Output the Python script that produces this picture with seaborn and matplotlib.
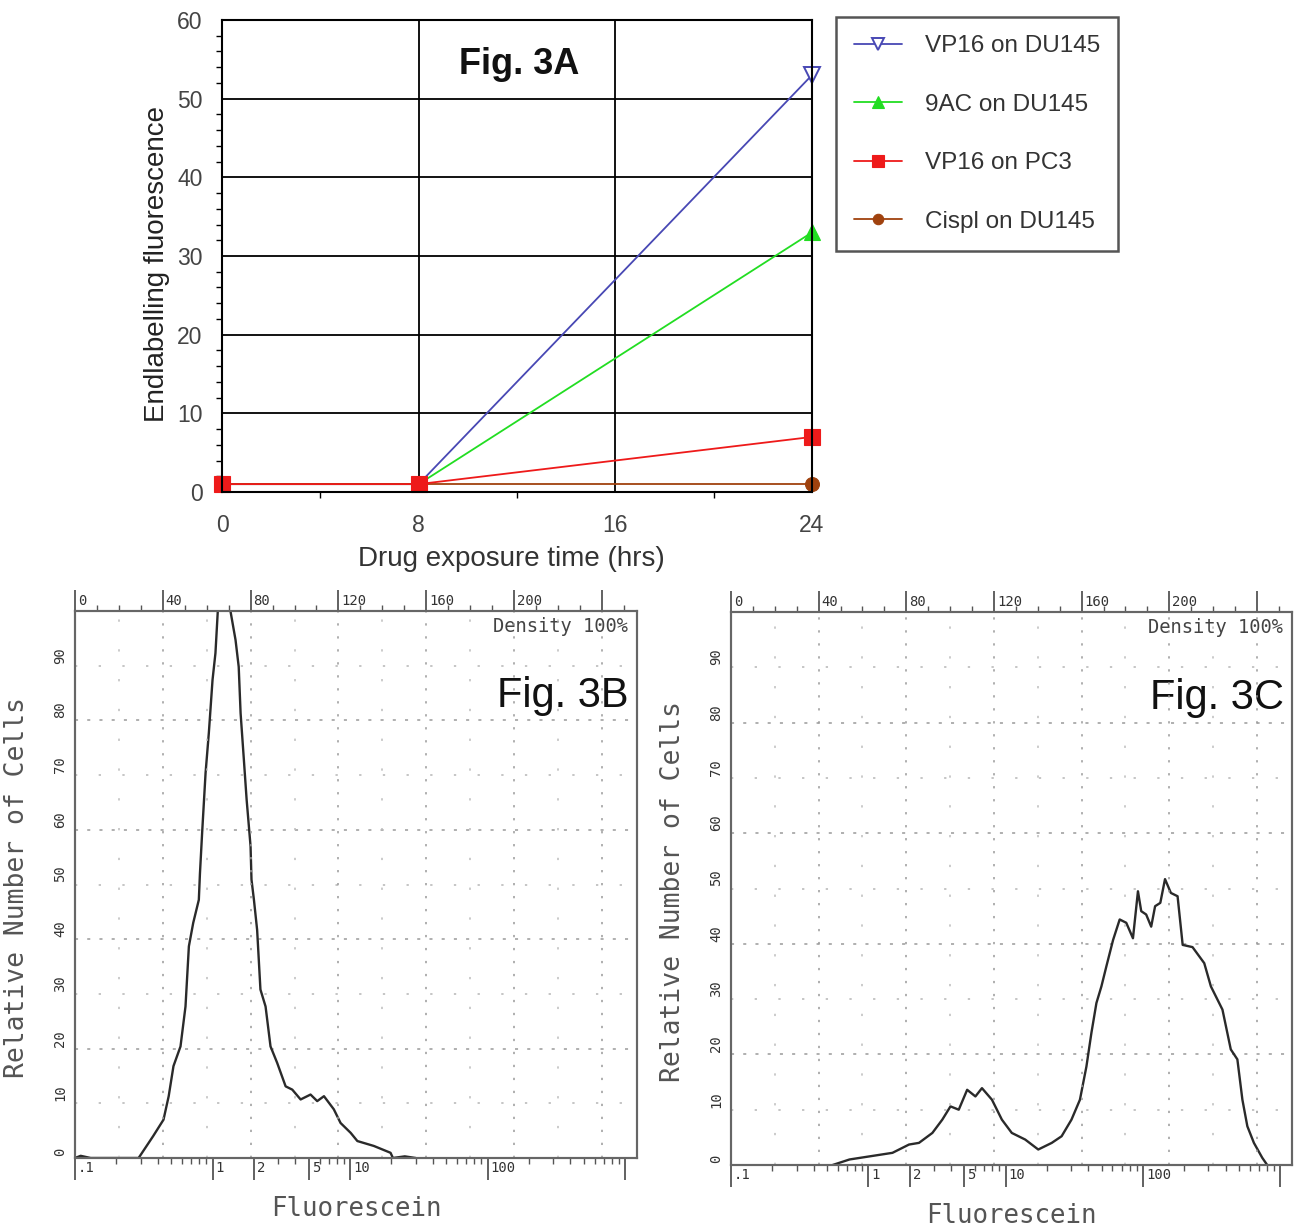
import numpy as np
import pandas as pd
import matplotlib
matplotlib.use('Agg')
import matplotlib.pyplot as plt
import seaborn as sns
from matplotlib.ticker import FixedLocator, MultipleLocator
from matplotlib.transforms import ScaledTranslation

# Fig. 3A: endlabelling vs drug exposure time
hours = [0, 8, 24]
vp16_du145 = [1.0, 1.0, 53.0]
ac9_du145 = [1.0, 1.0, 33.0]
vp16_pc3 = [1.0, 1.0, 7.0]
cispl_du145 = [1.0, 1.0, 1.0]
series_names = ['VP16 on DU145', '9AC on DU145', 'VP16 on PC3', 'Cispl on DU145']

# Fig. 3B: flow histogram (fluorescein, log scale) - control
fl_3b = [0.10, 0.11, 0.13, 0.29, 0.37, 0.44, 0.48, 0.52, 0.585, 0.636, 0.673, 0.724, 0.795,
         0.81, 0.84, 0.89, 0.94, 1.0, 1.05, 1.09, 1.15, 1.3, 1.35, 1.47, 1.55, 1.6, 1.69,
         1.77, 1.89, 1.92, 2.0, 2.11, 2.23, 2.43, 2.64, 2.95, 3.4, 3.8, 4.37, 5.16, 5.77,
         6.46, 7.62, 8.53, 10.1, 11.3, 14.9, 19.7, 20.5, 25.0, 30.0]
cells_3b = [0.0, 0.4, 0.0, 0.0, 4.0, 7.0, 11.3, 16.8, 20.4, 27.7, 38.7, 43.0, 47.2,
            52.0, 59.4, 70.4, 77.7, 87.4, 92.3, 99.6, 112, 112, 100, 94.7, 89.8, 81.3, 72.8,
            65.5, 57.0, 50.9, 47.2, 41.7, 30.8, 27.7, 20.4, 17.4, 13.1, 12.5, 10.7, 11.6, 10.4,
            11.3, 8.9, 6.4, 4.6, 3.1, 2.2, 0.95, 0.0, 0.3, 0.0]

# Fig. 3C: flow histogram - treated
fl_3c = [0.55, 0.73, 1.5, 1.98, 2.34, 2.93, 3.46, 3.97, 4.56, 5.25, 6.03, 6.73, 7.96, 9.4,
         11.1, 13.9, 17.3, 21.7, 25.6, 30.2, 34.8, 38.8, 42.2, 45.9, 49.9, 54.2, 60.7, 67.8,
         75.7, 84.7, 92.1, 97.3, 105.7, 115, 122.8, 134, 145, 160, 179, 195, 230, 280, 313,
         380, 437, 488, 531, 577, 644, 741, 805]
cells_3c = [0.0, 1.0, 2.2, 3.7, 4.0, 5.8, 8.2, 10.6, 10.0, 13.6, 12.4, 13.9, 11.8, 8.2,
            5.8, 4.6, 2.8, 4.0, 5.2, 8.2, 11.8, 17.8, 23.9, 29.3, 32.3, 35.9, 40.7, 44.4,
            43.8, 41.0, 49.5, 45.9, 45.3, 43.1, 46.8, 47.4, 51.7, 49.2, 48.6, 39.8, 39.4, 36.5, 32.3,
            28.1, 20.9, 19.1, 11.8, 7.0, 4.0, 1.3, 0.0]

log_ticks = [0.1, 1, 2, 5, 10, 100, 1000]
log_labels = ['.1', '1', '2', '5', '10', '100', '']
chan_ticks = [0, 40, 80, 120, 160, 200, 240]
chan_labels = ['0', '40', '80', '120', '160', '200', '']
count_ticks = [0, 10, 20, 30, 40, 50, 60, 70, 80, 90]
count_labels = [str(v) for v in count_ticks]

sns.set_theme(style='white')
plt.rcParams['font.family'] = ['Liberation Sans', 'DejaVu Sans']

W, H = 1302, 1226
fig = plt.figure(figsize=(W / 100, H / 100), dpi=100)


def px_box(left, top, right, bottom):
    return [left / W, 1 - bottom / H, (right - left) / W, (bottom - top) / H]


def shift(labels, dx, dy=0):
    off = ScaledTranslation(dx / 100, dy / 100, fig.dpi_scale_trans)
    for lbl in labels:
        lbl.set_transform(lbl.get_transform() + off)


# ---------------- Fig. 3A ----------------
ax = fig.add_axes(px_box(222, 20, 812, 492))
# (values, colour, marker, face, size, edge width, which points carry a marker)
styles = [
    (vp16_du145, '#4848b4', 'v', 'white', 12, 1.4, [2]),
    (ac9_du145, '#22dd22', '^', '#22dd22', 11, 0.8, [2]),
    (cispl_du145, '#a0420e', 'o', '#a0420e', 10, 0.8, [0, 1, 2]),
    (vp16_pc3, '#ee1a1a', 's', '#ee1a1a', 11, 0.8, [0, 1, 2]),
]
names = [series_names[0], series_names[1], series_names[3], series_names[2]]
for (vals, color, marker, mfc, ms, mew, every), name in zip(styles, names):
    sns.lineplot(x=hours, y=vals, ax=ax, color=color, marker=marker, markersize=ms,
                 markerfacecolor=mfc, markeredgecolor=color, markeredgewidth=mew,
                 markevery=every, linewidth=1.3, label=name, clip_on=False)

ax.set_xlim(0, 24)
ax.set_ylim(0, 60)
ax.xaxis.set_major_locator(FixedLocator([0, 8, 16, 24]))
ax.xaxis.set_minor_locator(FixedLocator([4, 12, 20]))
ax.yaxis.set_major_locator(MultipleLocator(10))
ax.yaxis.set_minor_locator(MultipleLocator(2))
ax.grid(True, which='major', color='black', linewidth=1.3)
for s in ax.spines.values():
    s.set_color('black')
    s.set_linewidth(1.5)
ax.tick_params(axis='both', which='major', direction='out', length=6, width=1.2,
               labelsize=16.5, labelcolor='#444', color='black')
ax.tick_params(axis='x', which='major', pad=10)
ax.tick_params(axis='y', which='major', pad=8)
ax.tick_params(axis='both', which='minor', direction='out', length=4, width=1, color='black',
               bottom=True, left=True)
ax.set_xlabel('Drug exposure time (hrs)', fontsize=20, color='#333')
ax.set_ylabel('Endlabelling fluorescence', fontsize=20, color='#222')
ax.xaxis.set_label_coords(0.49, -0.115)
ax.yaxis.set_label_coords(-0.088, 0.483)
ax.text(0.503, 0.905, 'Fig. 3A', transform=ax.transAxes, fontsize=26, fontweight='bold',
        ha='center', va='center', color='#111')

h, l = ax.get_legend_handles_labels()
idx = [l.index(n) for n in series_names]
leg = ax.legend([h[i] for i in idx], [l[i] for i in idx], loc='upper left',
                bbox_to_anchor=(836 / W, 1 - 17 / H), bbox_transform=fig.transFigure,
                frameon=True, fancybox=False, edgecolor='#555', framealpha=1,
                fontsize=17.5, labelspacing=1.5, handlelength=1.95, handletextpad=0.95,
                borderpad=0.75, borderaxespad=0, markerscale=0.75)
leg.get_frame().set_linewidth(1.8)
for t in leg.get_texts():
    t.set_color('#333')
for lh in leg.legend_handles:
    lh.set_markevery([1])


# ---------------- Fig. 3B / 3C ----------------
def flow_panel(box, fl, cells, tag, xlab_y, ylab_x):
    axf = fig.add_axes(box)
    axf.set_xscale('log')
    sns.lineplot(x=fl, y=cells, ax=axf, color='#2a2a2a', linewidth=1.7, zorder=3)
    axf.set_xlim(0.1, 1220)
    axf.set_ylim(0, 100)
    axt = axf.twiny()
    axt.set_xlim(0, 256)

    # dotted instrument grid
    for y in range(5, 100, 5):
        if y % 20 == 0:
            axf.axhline(y, color='#9a9a9a', lw=1.1, ls=(0, (2, 6)), zorder=0)
        elif y % 10 == 0:
            axf.axhline(y, color='#b5b5b5', lw=1.1, ls=(0, (1.5, 14)), zorder=0)
    for c in range(20, 256, 20):
        if c % 40 == 0:
            axt.axvline(c, color='#9a9a9a', lw=1.1, ls=(0, (1.5, 7)), zorder=0)
        else:
            axt.axvline(c, color='#bdbdbd', lw=1.1, ls=(0, (1.5, 18)), zorder=0)

    for a in (axf, axt):
        for s in a.spines.values():
            s.set_color('#666')
            s.set_linewidth(1.5)

    minors = [m * 10.0 ** e for e in range(-1, 3) for m in range(2, 10)]
    minors = [v for v in minors if v not in log_ticks]
    axf.xaxis.set_major_locator(FixedLocator(log_ticks))
    axf.xaxis.set_minor_locator(FixedLocator(minors))
    axf.yaxis.set_major_locator(FixedLocator(count_ticks))
    axf.yaxis.set_minor_locator(MultipleLocator(2))
    axt.xaxis.set_major_locator(FixedLocator(chan_ticks))
    axt.xaxis.set_minor_locator(MultipleLocator(10))

    kw = dict(labelsize=10, labelcolor='#333', color='#555', labelfontfamily='DejaVu Sans Mono')
    axf.tick_params(axis='x', which='major', direction='out', length=16, width=1.3, pad=-14, **kw)
    axf.tick_params(axis='x', which='minor', direction='out', length=4, width=1, color='#555')
    axf.tick_params(axis='y', which='major', direction='out', length=15, width=1.3, pad=-4.5, **kw)
    axf.tick_params(axis='y', which='minor', direction='inout', length=5, width=1, color='#555')
    axt.tick_params(axis='x', which='major', direction='out', length=15, width=1.3, pad=-13, **kw)
    axt.tick_params(axis='x', which='minor', direction='out', length=4, width=1, color='#555')

    axf.set_xticklabels(log_labels, ha='left')
    axf.set_yticklabels(count_labels, rotation=90, va='bottom', ha='center')
    axt.set_xticklabels(chan_labels, ha='left')
    shift(axf.get_xticklabels(), 3)
    shift(axt.get_xticklabels(), 3)
    shift(axf.get_yticklabels(), 0, 2)

    axf.set_xlabel('Fluorescein', fontsize=18.5, color='#555', family='DejaVu Sans Mono')
    axf.set_ylabel('Relative Number of Cells', fontsize=19, color='#555',
                   family='DejaVu Sans Mono')
    axf.xaxis.set_label_coords(0.5, xlab_y)
    axf.yaxis.set_label_coords(ylab_x, 0.495)

    axf.text(0.984, 0.962, 'Density 100%', transform=axf.transAxes, ha='right',
             va='baseline', fontsize=13.5, color='#444', family='DejaVu Sans Mono')
    axf.text(0.985, 0.825, tag, transform=axf.transAxes, ha='right', va='baseline',
             fontsize=30, color='#111')
    return axf


flow_panel(px_box(75, 611, 637, 1158), fl_3b, cells_3b, 'Fig. 3B', -0.07, -0.080)
flow_panel(px_box(731, 612, 1292, 1165), fl_3c, cells_3c, 'Fig. 3C', -0.068, -0.080)

fig.savefig('out.png', dpi=100)
